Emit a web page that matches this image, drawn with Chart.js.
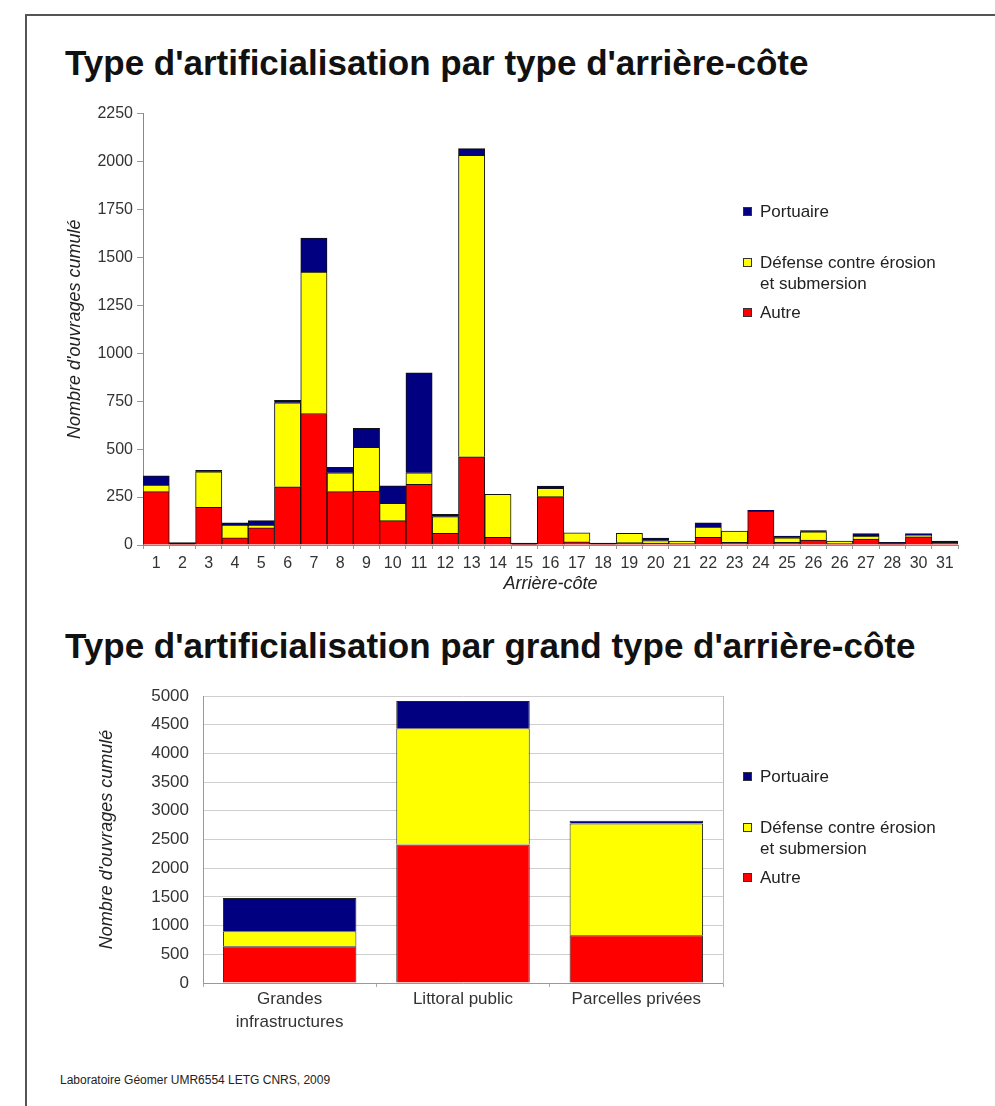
<!DOCTYPE html>
<html lang="fr">
<head>
<meta charset="utf-8">
<script src="https://cdn.jsdelivr.net/npm/chart.js@4.4.1/dist/chart.umd.min.js"></script>
<style>
  html, body { margin: 0; padding: 0; background: #fff; }
  #page { position: relative; width: 995px; height: 1106px; overflow: hidden; font-family: "Liberation Sans", Arial, sans-serif; color: #111; }
  #frame { position: absolute; left: 25px; top: 14px; right: -5px; bottom: -5px; border-top: 2px solid #555; border-left: 2px solid #555; }
  .title { position: absolute; left: 65px; font-weight: bold; font-size: 35px; white-space: nowrap; line-height: 1; }
  .legend { position: absolute; left: 743px; font-size: 17px; color: #222; line-height: 21px; }
  .legend .item { position: relative; padding-left: 17px; white-space: nowrap; }
  .legend .sw { position: absolute; left: 0; top: 6px; width: 9px; height: 9px; border: 1px solid #333; box-sizing: border-box; }
  #footer { position: absolute; left: 60px; top: 1073px; font-size: 12px; color: #222; }
  canvas { position: absolute; }
</style>
</head>
<body>
<div id="page">
  <div id="frame"></div>
  <div class="title" style="top:45px">Type d'artificialisation par type d'arrière-côte</div>
  <canvas id="chartTop" width="915" height="500" style="left:50px;top:100px"></canvas>
  <div class="legend" id="legendTop" style="top:201px"></div>

  <div class="title" style="top:628px">Type d'artificialisation par grand type d'arrière-côte</div>
  <canvas id="chartBottom" width="700" height="370" style="left:50px;top:680px"></canvas>
  <div class="legend" id="legendBottom" style="top:766px"></div>

  <div id="footer">Laboratoire Géomer UMR6554 LETG CNRS, 2009</div>
</div>

<script>
// Arrière-côtes (labels as printed, 26 appears twice and 29 is missing)
const arriereCotes = ['1','2','3','4','5','6','7','8','9','10','11','12','13','14','15','16',
                      '17','18','19','20','21','22','23','24','25','26','26','27','28','30','31'];
const autreTop     = [278, 5, 196, 38, 90, 304, 686, 278, 281, 127, 316, 61, 460, 40, 4, 252,
                      17, 5, 12, 10, 8, 40, 14, 177, 14, 26, 8, 31, 7, 43, 14];
const defenseTop   = [35, 0, 186, 66, 14, 438, 738, 99, 228, 90, 61, 87, 1572, 224, 0, 43,
                      47, 0, 49, 13, 13, 54, 59, 0, 24, 43, 13, 16, 0, 9, 0];
const portuaireTop = [48, 7, 8, 12, 23, 12, 177, 28, 99, 92, 521, 12, 35, 0, 6, 12,
                      0, 5, 0, 13, 0, 22, 0, 4, 9, 6, 0, 12, 7, 7, 7];

// Grands types d'arrière-côte
const grandsTypes     = [['Grandes', 'infrastructures'], 'Littoral public', 'Parcelles privées'];
const autreBottom     = [640, 2413, 831];
const defenseBottom   = [261, 2023, 1948];
const portuaireBottom = [582, 477, 47];

const COLORS = { portuaire: '#000080', defense: '#ffff00', autre: '#ff0000' };
const LEGEND = [
    { text: 'Portuaire', color: COLORS.portuaire, gap: 0 },
    { text: 'Défense contre érosion<br>et submersion', color: COLORS.defense, gap: 30 },
    { text: 'Autre', color: COLORS.autre, gap: 8 }
];
const FONT = '"Liberation Sans", Arial, sans-serif';

Chart.defaults.font.family = FONT;
Chart.defaults.color = '#333';

function buildLegend(id) {
    const el = document.getElementById(id);
    el.innerHTML = LEGEND.map(l =>
        `<div class="item" style="margin-top:${l.gap}px"><span class="sw" style="background:${l.color}"></span>${l.text}</div>`
    ).join('');
}

function datasets(autre, defense, portuaire, border) {
    return [
        { label: 'Autre', data: autre, backgroundColor: COLORS.autre, borderColor: border, borderWidth: 1 },
        { label: 'Défense contre érosion et submersion', data: defense, backgroundColor: COLORS.defense, borderColor: border, borderWidth: 1 },
        { label: 'Portuaire', data: portuaire, backgroundColor: COLORS.portuaire, borderColor: border, borderWidth: 1 }
    ];
}

const axisTitle = (text, pad) => ({
    display: true,
    text: text,
    color: '#222',
    font: { size: 18, style: 'italic' },
    padding: pad
});

// pas de séparateur de milliers
const plainNumber = v => String(v);

// Graphique du haut : par arrière-côte
new Chart(document.getElementById('chartTop'), {
    type: 'bar',
    data: {
        labels: arriereCotes,
        datasets: datasets(autreTop, defenseTop, portuaireTop, '#111')
    },
    options: {
        responsive: false,
        animation: false,
        layout: { padding: { top: 13, right: 7, left: 0, bottom: 0 } },
        plugins: { legend: { display: false }, tooltip: { enabled: false } },
        datasets: { bar: { categoryPercentage: 1, barPercentage: 1 } },
        scales: {
            x: {
                stacked: true,
                grid: { display: true, drawOnChartArea: false, offset: true, tickLength: 4, color: '#999' },
                border: { color: '#888' },
                ticks: { font: { size: 16 }, padding: 5, maxRotation: 0, autoSkip: false },
                title: axisTitle('Arrière-côte', { top: 0, bottom: 5 }),
                afterFit: s => { s.height = 55; }
            },
            y: {
                stacked: true,
                min: 0,
                max: 2250,
                grid: { display: true, drawOnChartArea: false, tickLength: 6, color: '#999' },
                border: { color: '#888' },
                ticks: { stepSize: 250, font: { size: 16 }, padding: 4, callback: plainNumber },
                title: axisTitle("Nombre d'ouvrages cumulé", { top: 14, bottom: 0 }),
                afterFit: s => { s.width = 93; }
            }
        }
    }
});

// Graphique du bas : par grand type d'arrière-côte
new Chart(document.getElementById('chartBottom'), {
    type: 'bar',
    data: {
        labels: grandsTypes,
        datasets: datasets(autreBottom, defenseBottom, portuaireBottom, '#222')
    },
    options: {
        responsive: false,
        animation: false,
        layout: { padding: { top: 16, right: 27, left: 0, bottom: 0 } },
        plugins: { legend: { display: false }, tooltip: { enabled: false } },
        datasets: { bar: { categoryPercentage: 1, barPercentage: 0.77 } },
        scales: {
            x: {
                stacked: true,
                grid: { display: true, drawOnChartArea: false, offset: true, tickLength: 4, color: '#aaa' },
                border: { color: '#999' },
                ticks: { font: { size: 17, lineHeight: 1.4 }, padding: 0, maxRotation: 0, autoSkip: false },
                afterFit: s => { s.height = 67; }
            },
            y: {
                stacked: true,
                min: 0,
                max: 5000,
                grid: { color: '#cfcfcf', tickLength: 10, tickColor: 'rgba(0,0,0,0)' },
                border: { color: '#999' },
                ticks: { stepSize: 500, font: { size: 17 }, padding: 4, callback: plainNumber },
                title: axisTitle("Nombre d'ouvrages cumulé", { top: 46, bottom: 0 }),
                afterFit: s => { s.width = 153; }
            },
            y2: {
                position: 'right',
                min: 0,
                max: 5000,
                grid: { drawOnChartArea: false, drawTicks: false },
                border: { color: '#bbb' },
                ticks: { display: false },
                afterFit: s => { s.width = 0; }
            }
        }
    }
});

buildLegend('legendTop');
buildLegend('legendBottom');
</script>
</body>
</html>
